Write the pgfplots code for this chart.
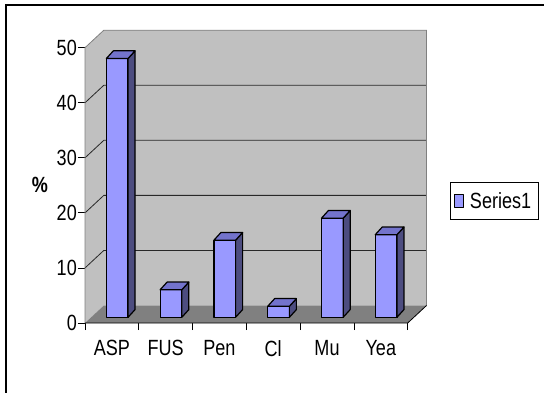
\documentclass[border=0pt]{standalone}
\usepackage{fontspec}
\setmainfont{Liberation Sans}[FakeStretch=0.82]
\usepackage{pgfplots}
\pgfplotsset{compat=1.18}
\usepackage{pgfplotstable}
\definecolor{barfront}{RGB}{153,153,255}
\definecolor{bartop}{RGB}{115,115,204}
\definecolor{barside}{RGB}{77,77,128}
\definecolor{wallc}{RGB}{192,192,192}
\definecolor{floorc}{RGB}{128,128,128}
\definecolor{edgec}{RGB}{128,128,128}
\definecolor{gridc}{RGB}{40,40,40}
\pgfplotstableread{
x label v
0 ASP 47
1 FUS 5
2 Pen 14
3 Cl 2
4 Mu 18
5 Yea 15
}\datatable
\pgfdeclareplotmark{emptymark}{}
\newcommand{\bigf}{\fontsize{22}{24}\selectfont}
\begin{document}
\begin{tikzpicture}[x=1pt,y=1pt]
\useasboundingbox (0,0) rectangle (544,392);
\draw[line width=2pt] (6,-20) -- (6,387) -- (580,387);
\node[font=\bigf\bfseries] at (40,207) {\%};
% front plane axis: walls, floor, ticks
\begin{axis}[
  at={(85pt,69pt)}, anchor=south west,
  scale only axis, width=322.7pt, height=275.3pt,
  xmin=-0.5, xmax=5.5, ymin=0, ymax=50,
  clip=false,
  axis x line*=bottom, axis y line*=left,
  axis line style={draw=none},
  ytick={0,10,20,30,40,50},
  xtick={-0.5,0.5,1.5,2.5,3.5,4.5,5.5},
  x tick label as interval,
  xticklabels={ASP,FUS,Pen,Cl,Mu,Yea},
  tick align=outside,
  major tick length=7pt,
  tick style={black, line width=0.8pt},
  tick label style={font=\bigf},
  yticklabel style={inner sep=1pt},
  xticklabel style={yshift=-7pt},
  /pgf/number format/assume math mode=true,
]
% left wall
\fill[wallc] (axis cs:-0.5,0) -- (axis cs:-0.15,3.18) -- (axis cs:-0.15,53.18) -- (axis cs:-0.5,50) -- cycle;
% back wall
\fill[wallc] (axis cs:-0.15,3.18) rectangle (axis cs:5.85,53.18);
% floor
\fill[floorc] (axis cs:-0.5,0) -- (axis cs:5.5,0) -- (axis cs:5.85,3.18) -- (axis cs:-0.15,3.18) -- cycle;
% gridlines
\pgfplotsinvokeforeach{10,20,30,40}{
  \draw[gridc, line width=0.8pt] (axis cs:-0.5,#1) -- (axis cs:-0.15,#1+3.18) -- (axis cs:5.85,#1+3.18);
}
% wall edges
\draw[edgec, line width=0.8pt] (axis cs:-0.5,0) -- (axis cs:-0.5,50) -- (axis cs:-0.15,53.18) -- (axis cs:5.85,53.18) -- (axis cs:5.85,3.18);
% front floor edges
\draw[black, line width=0.8pt] (axis cs:-0.5,0) -- (axis cs:5.5,0) -- (axis cs:5.85,3.18);
\end{axis}
% bar plane axis
\begin{axis}[
  at={(90.3pt,74.7pt)}, anchor=south west,
  scale only axis, width=322.7pt, height=275.3pt,
  xmin=-0.5, xmax=5.5, ymin=0, ymax=50,
  clip=false, hide axis,
  legend style={at={(1.1137,0.4915)}, anchor=north west, draw=black, line width=0.6pt,
    font=\bigf, inner xsep=4.5pt, inner ysep=7pt, legend cell align=left,
    nodes={inner sep=3pt},
    /tikz/every odd column/.append style={column sep=2.5pt}},
  legend image code/.code={\draw[fill=barfront,draw=black,line width=1pt] (0pt,-6.5pt) rectangle (9pt,6.5pt);},
]
\addplot[forget plot, only marks, scatter, mark=emptymark,
  visualization depends on={\thisrow{v} \as \val},
  scatter/@pre marker code/.code={%
    \pgfmathsetmacro{\h}{\val*5.506}%
    \filldraw[fill=barside, draw=black, line width=1.2pt, line join=round]
      (10.85pt,0pt) -- (17.85pt,7.7pt) -- (17.85pt,7.7pt-\h pt) -- (10.85pt,-\h pt) -- cycle;
    \filldraw[fill=bartop, draw=black, line width=1.2pt, line join=round]
      (-10.85pt,0pt) -- (-3.85pt,7.7pt) -- (17.85pt,7.7pt) -- (10.85pt,0pt) -- cycle;
  },
  scatter/@post marker code/.code={},
] table[x=x, y=v] {\datatable};
\addplot[ybar, bar width=21.7pt, fill=barfront, draw=black, line width=1.2pt, line join=round]
  table[x=x, y=v] {\datatable};
\addlegendentry{Series1}
\end{axis}
\end{tikzpicture}
\end{document}
